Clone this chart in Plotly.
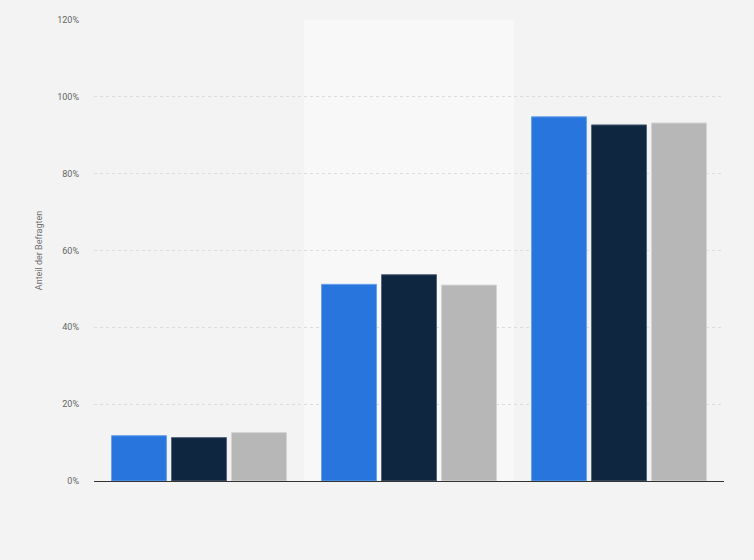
import plotly.graph_objs as go

# categories (labels are not shown on the reference)
categories = ["Gruppe 1", "Gruppe 2", "Gruppe 3"]

series_a = [11.8, 51.2, 94.8]
series_b = [11.3, 53.7, 92.7]
series_c = [12.6, 51.0, 93.2]

series_names = ["Serie A", "Serie B", "Serie C"]
colors = ["#2876dd", "#0f2640", "#b7b7b7"]
edge_colors = ["#6ba3ea", "#56657a", "#d4d4d4"]

fig = go.Figure()
for name, vals, col, edge in zip(series_names, [series_a, series_b, series_c], colors, edge_colors):
    fig.add_trace(go.Bar(
        x=categories,
        y=vals,
        name=name,
        marker=dict(color=col, line=dict(color=edge, width=1)),
    ))

# lighter band behind the middle category
fig.add_shape(type="rect", xref="x", yref="paper", x0=0.5, x1=1.5, y0=0, y1=1,
              fillcolor="#f8f8f8", line=dict(width=0), layer="below")

fig.update_layout(
    width=754,
    height=560,
    paper_bgcolor="#f3f3f3",
    plot_bgcolor="#f3f3f3",
    margin=dict(l=94, r=30, t=20, b=79),
    barmode="group",
    bargap=0.143,
    bargroupgap=0.083,
    showlegend=False,
    font=dict(family="Roboto, Arial, sans-serif", size=10, color="#666666"),
    xaxis=dict(
        showticklabels=False,
        showgrid=False,
        ticks="",
        showline=False,
        zeroline=False,
    ),
    yaxis=dict(
        range=[0, 120],
        dtick=20,
        ticksuffix="%",
        showgrid=True,
        gridcolor="#dcdcdc",
        griddash="dot",
        gridwidth=1,
        zeroline=True,
        zerolinecolor="#333333",
        zerolinewidth=1,
        ticks="",
        ticklabelstandoff=14,
        tickfont=dict(size=9, color="#666666"),
        title=dict(text="Anteil der Befragten", font=dict(size=9, color="#707070"), standoff=13),
    ),
)

# drop the default page margin so the figure fills the window
fig.write_html("out.html", config={"displayModeBar": False},
               post_script="document.body.style.margin='0';")
